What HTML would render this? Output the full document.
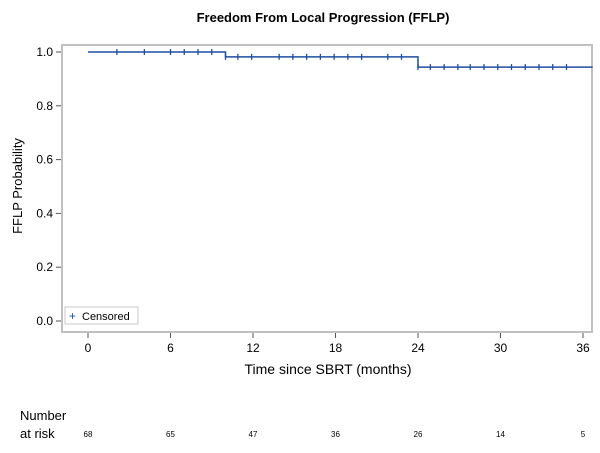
<!DOCTYPE html>
<html><head><meta charset="utf-8"><style>
body{margin:0;background:#fff;width:600px;height:448px;overflow:hidden}
svg text{font-family:"Liberation Sans",Arial,sans-serif}
</style></head><body>
<svg width="600" height="448">
<text x="323" y="22" text-anchor="middle" font-size="13" font-weight="bold">Freedom From Local Progression (FFLP)</text>
<rect x="62" y="45" width="530" height="287" fill="none" stroke="#c0c0c0" stroke-width="2"/>
<g id="axes"></g>
<path id="curve" fill="none" stroke="#1f4ea3" stroke-width="1.5"/>
<g id="censors"></g>
<text x="22" y="186" transform="rotate(-90 22 186)" text-anchor="middle" font-size="13">FFLP Probability</text>
<text x="328" y="374" text-anchor="middle" font-size="14">Time since SBRT (months)</text>
<g>
<rect x="65" y="307" width="73" height="17" fill="#fff" stroke="#c8c8c8"/>
<text x="69" y="320" font-size="12" fill="#1f4ea3">+</text>
<text x="82" y="320" font-size="11">Censored</text>
</g>
<text x="20" y="420" font-size="13">Number</text>
<text x="20" y="438" font-size="13">at risk</text>
<g id="risk"></g>
</svg>
<script>
const xTicks=[0,6,12,18,24,30,36];
const yTicks=[0,0.2,0.4,0.6,0.8,1.0];
const stepTimes=[0,10,24];
const stepValues=[1.0,0.982,0.944];
const censorTimes=[2.1,4.1,6,7,8,9,10,10.9,11.9,13.9,14.9,15.9,16.9,17.9,18.9,19.9,21.8,22.8,24,24.9,25.9,26.9,27.8,28.8,29.8,30.8,31.8,32.8,33.8,34.8];
const atRisk=[68,65,47,36,26,14,5];
const endTime=36.7;
const X=t=>88+t*(583-88)/36;
const Y=v=>321-v*(321-52);
const NS="http://www.w3.org/2000/svg";
function mk(tag,attrs,parent){const e=document.createElementNS(NS,tag);for(const k in attrs)e.setAttribute(k,attrs[k]);parent.appendChild(e);return e;}
const axes=document.getElementById('axes');
xTicks.forEach(t=>{
 const l=mk('line',{x1:X(t),x2:X(t),y1:333,y2:338,stroke:'#555'},axes);
 
 
 const tx=mk('text',{x:X(t),y:352,'text-anchor':'middle','font-size':12},axes);tx.textContent=t;
 
 
});
yTicks.forEach(v=>{
 const l=mk('line',{x1:56,x2:61,y1:Y(v),y2:Y(v),stroke:'#555'},axes);
 
 
 const tx=mk('text',{x:53,y:Y(v)+4,'text-anchor':'end','font-size':12},axes);tx.textContent=v.toFixed(1);
 
 
});
let d='M'+X(0)+','+Y(stepValues[0]);
for(let i=1;i<stepTimes.length;i++){d+=' H'+X(stepTimes[i])+' V'+Y(stepValues[i]);}
d+=' H'+X(endTime);
document.getElementById('curve').setAttribute('d',d);
function valAt(t){let v=stepValues[0];for(let i=0;i<stepTimes.length;i++)if(t>=stepTimes[i])v=stepValues[i];return v;}
const cg=document.getElementById('censors');
censorTimes.forEach(t=>{
 const y=Y(valAt(t));
 const l=mk('line',{x1:X(t),x2:X(t),y1:y-3,y2:y+3,stroke:'#1f4ea3','stroke-width':1.3},cg);
 
 
});
const rg=document.getElementById('risk');
atRisk.forEach((n,i)=>{
 const tx=mk('text',{x:X(xTicks[i]),y:437,'text-anchor':'middle','font-size':8},rg);tx.textContent=n;
 
 
});
</script>
</body></html>
